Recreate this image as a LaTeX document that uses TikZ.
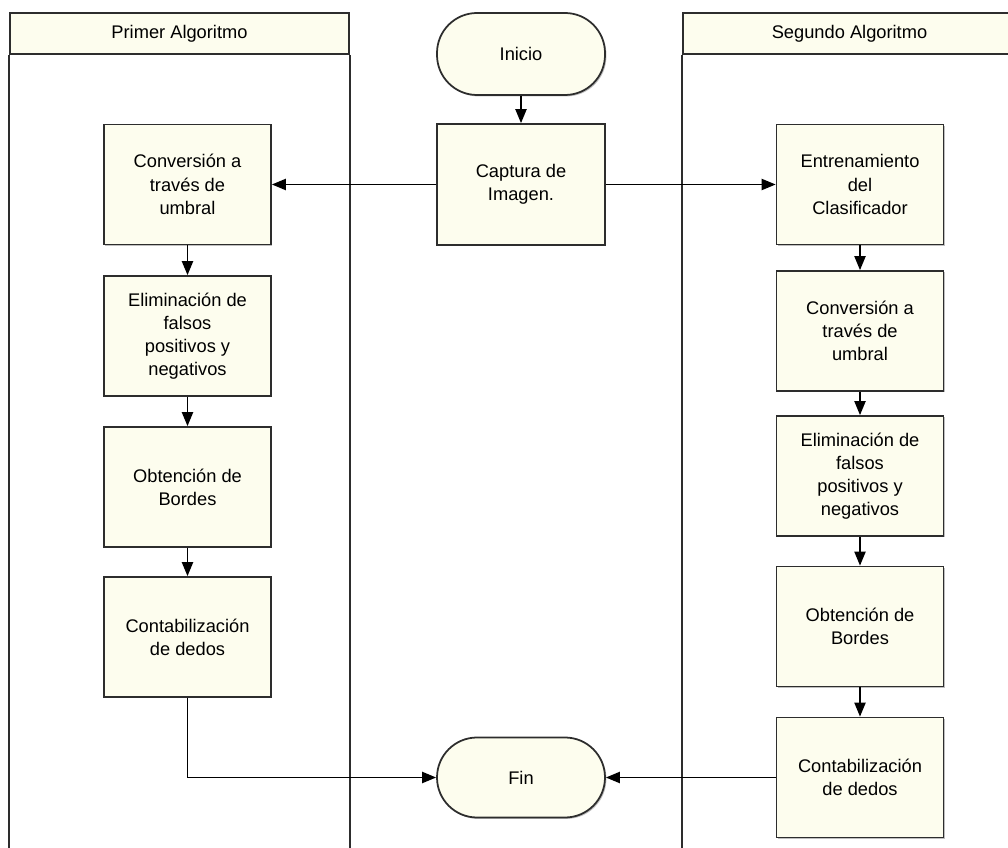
\documentclass[tikz,border=0pt]{standalone}
\usepackage{fontspec}
\setmainfont{Liberation Sans}
\usetikzlibrary{
  arrows.meta,
  positioning,
  shadows
}

\definecolor{boxfill}{RGB}{253,253,238}
\definecolor{edge}{RGB}{45,45,45}

\begin{document}
\begin{tikzpicture}[
  font=\fontsize{13}{16.5}\selectfont,
  %% ── node styles ────────────────────────────────────────────────────
  %% Process boxes (both lanes + capture)
  P/.style ={rectangle, draw=edge, fill=boxfill, line width=1.25pt,
             minimum width=4.175cm, minimum height=3.0cm,
             align=center,
             drop shadow={shadow xshift=1pt, shadow yshift=-1pt,
                          opacity=0.25, fill=black}},
  %% Start / end terminals
  T/.style ={rectangle, rounded corners=1cm, draw=edge, fill=boxfill,
             line width=1.25pt, minimum width=4.2cm, minimum height=2.05cm,
             align=center,
             drop shadow={shadow xshift=1pt, shadow yshift=-1pt,
                          opacity=0.25, fill=black}},
  %% Lane headers
  H/.style ={rectangle, draw=edge, fill=boxfill, line width=1.25pt,
             minimum height=1.025cm, align=center},
  %% Arrows
  arr/.style={-{Triangle[length=10pt,width=8pt]}, line width=1.1pt, black},
  lane/.style={draw=edge, line width=1.25pt},
]

\useasboundingbox (0,0) rectangle (25.2,-21.2);

%% ════════════════════════════════════════════════════════════════════
%% SWIM LANES
%% ════════════════════════════════════════════════════════════════════

\node[H, minimum width=8.475cm] (hdrA) at (4.4875,-0.8375) {Primer Algoritmo};
\node[H, minimum width=8.325cm] (hdrB) at (21.2375,-0.8375) {Segundo Algoritmo};

\draw[lane] (hdrA.south west) -- ++(0,-21);
\draw[lane] (hdrA.south east) -- ++(0,-21);
\draw[lane] (hdrB.south west) -- ++(0,-21);
\draw[lane] (hdrB.south east) -- ++(0,-21);

%% ════════════════════════════════════════════════════════════════════
%% CENTRE COLUMN
%% ════════════════════════════════════════════════════════════════════

\node[T] (inicio) at (13.025,-1.35) {Inicio};
\node[P, minimum width=4.2cm, minimum height=3.025cm] (captura)
  at (13.025,-4.6125) {Captura de\\Imagen.};
\node[T, minimum height=2.0cm] (fin) at (13.025,-19.4375) {Fin};

\draw[arr] (inicio) -- (captura);

%% ════════════════════════════════════════════════════════════════════
%% PRIMER ALGORITMO  (x = 4.69)
%% ════════════════════════════════════════════════════════════════════

\node[P] (convA) at (4.6875, -4.6125) {Conversión a\\través de\\umbral};
\node[P] (elimA) at (4.6875, -8.4)    {Eliminación de\\falsos\\positivos y\\negativos};
\node[P] (bordA) at (4.6875,-12.175)  {Obtención de\\Bordes};
\node[P] (contA) at (4.6875,-15.925)  {Contabilización\\de dedos};

\foreach \a/\b in {convA/elimA, elimA/bordA, bordA/contA}
  \draw[arr] (\a) -- (\b);

%% ════════════════════════════════════════════════════════════════════
%% SEGUNDO ALGORITMO  (x = 21.5)
%% ════════════════════════════════════════════════════════════════════

\node[P] (entrB) at (21.5, -4.6125) {Entrenamiento\\del\\Clasificador};
\node[P] (convB) at (21.5, -8.275)  {Conversión a\\través de\\umbral};
\node[P] (elimB) at (21.5,-11.9)    {Eliminación de\\falsos\\positivos y\\negativos};
\node[P] (bordB) at (21.5,-15.6625) {Obtención de\\Bordes};
\node[P] (contB) at (21.5,-19.4375) {Contabilización\\de dedos};

\foreach \a/\b in {entrB/convB, convB/elimB, elimB/bordB, bordB/contB}
  \draw[arr] (\a) -- (\b);

%% ── Branches out of the capture and back into Fin ───────────────────
\draw[arr] (captura.west) -- (convA.east);
\draw[arr] (captura.east) -- (entrB.west);

\draw[arr] (contA.south) |- (fin.west);
\draw[arr] (contB.west) -- (fin.east);

\end{tikzpicture}
\end{document}
